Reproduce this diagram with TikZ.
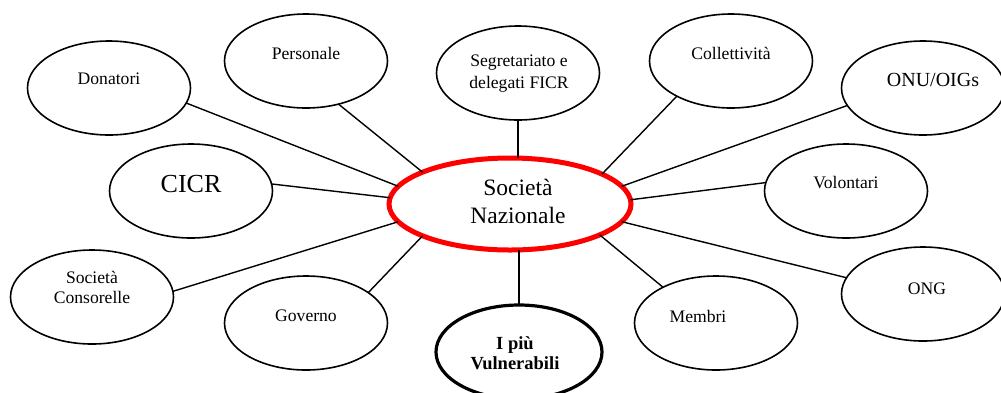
\documentclass[tikz,border=0pt]{standalone}
\usepackage{fontspec}
\setmainfont{Liberation Serif}
\usetikzlibrary{shapes.geometric}

\begin{document}
\begin{tikzpicture}[x=1pt,y=-1pt,
	bubble/.style={draw,ellipse,line width=1.6pt,outer sep=0pt,minimum width=163pt,minimum height=94pt},
	caption/.style={font=\fontsize{17.6}{21}\selectfont,align=center,inner sep=0pt},
	link/.style={line width=1.4pt}]

	\useasboundingbox (0,0) rectangle (1001,392);

	% outer ring
	\begin{scope}[every node/.style={bubble}]
		\node (donatori) at (109,88) {};
		\node (personale) at (306,61) {};
		\node (ficr) at (518,73) {};
		\node (collettivita) at (731,61) {};
		\node (onu) at (923,88) {};
		\node (cicr) at (191,191) {};
		\node (volontari) at (846,191) {};
		\node (consorelle) at (92,297) {};
		\node (governo) at (306,323) {};
		\node (membri) at (716,323) {};
		\node (ong) at (923,294) {};
	\end{scope}
	\node[bubble,line width=3.2pt,minimum width=166pt] (vulnerabili) at (519,352) {};

	% the national society in the middle
	\node[draw=red,ellipse,line width=5pt,outer sep=0pt,minimum width=242pt,minimum height=92pt] (nazionale) at (510,204) {};

	\node[caption] (donatori-t) at (109,79) {Donatori};
	\node[caption] (personale-t) at (306,53) {Personale};
	\node[caption,font=\fontsize{17.6}{22}\selectfont] (ficr-t) at (519,74) {Segretariato e\\delegati FICR};
	\node[caption] (collettivita-t) at (731,53) {Collettività};
	\node[caption,font=\fontsize{20}{24}\selectfont] (onu-t) at (933,80) {ONU/OIGs};
	\node[caption,font=\fontsize{26}{30}\selectfont] (cicr-t) at (191,184) {CICR};
	\node[caption] (volontari-t) at (846,183) {Volontari};
	\node[caption,font=\fontsize{17.6}{20}\selectfont] (consorelle-t) at (92,287) {Società\\Consorelle};
	\node[caption] (governo-t) at (306,316) {Governo};
	\node[caption,font=\fontsize{18.5}{20}\selectfont\bfseries] (vulnerabili-t) at (515,353) {I più\\Vulnerabili};
	\node[caption] (membri-t) at (698,316) {Membri};
	\node[caption] (ong-t) at (927,289) {ONG};
	\node[caption,font=\fontsize{23.5}{28}\selectfont] (nazionale-t) at (518,201) {Società\\Nazionale};

	% spokes
	\draw[link] (donatori.-11.6) -- (nazionale.171.3);
	\draw[link] (personale.-53.1) -- (nazionale.160.8);
	\draw[link] (ficr.south) -- (ficr.south |- nazionale.north);
	\draw[link] (collettivita.213.7) -- (nazionale.18.2);
	\draw[link] (onu.193.2) -- (nazionale.9);
	\draw[link] (cicr.5.6) -- (nazionale.177.2);
	\draw[link] (volontari.174.4) -- (nazionale.2.8);
	\draw[link] (consorelle.4.2) -- (nazionale.189.8);
	\draw[link] (governo.26) -- (nazionale.200.4);
	\draw[link] (vulnerabili.north) -- (vulnerabili.north |- nazionale.south);
	\draw[link] (membri.146.2) -- (nazionale.-19.5);
	\draw[link] (ong.168.2) -- (nazionale.-9.5);

\end{tikzpicture}
\end{document}
